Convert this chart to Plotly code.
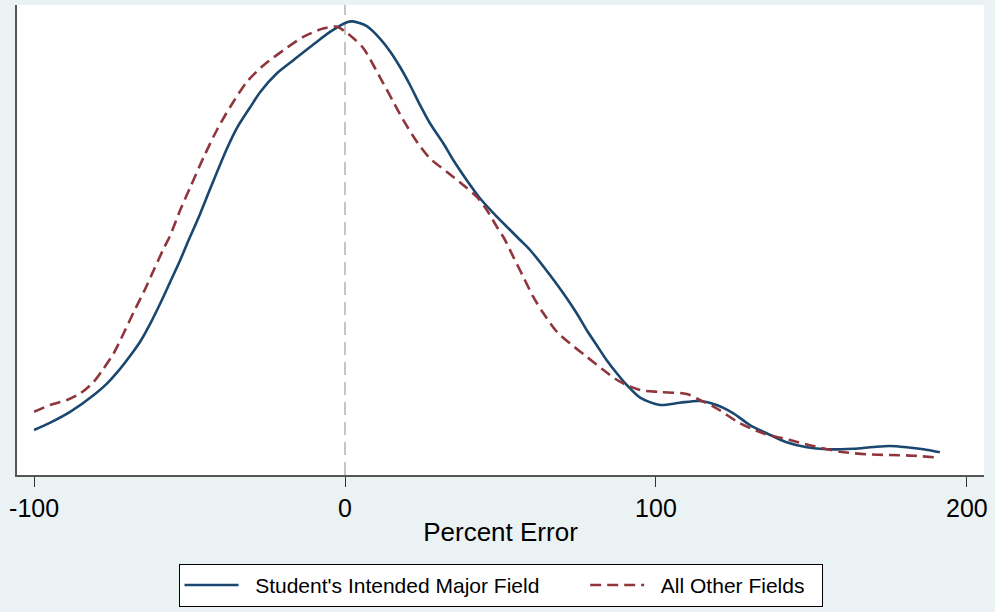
import plotly.graph_objects as go

# Kernel density estimates of percent error (density shown in units of 1e-3)
major_x = [-100, -94.8, -88.3, -80.8, -76.5, -73.3, -68.5, -65.8, -62.6, -59.4, -56.2, -53.0,
           -50.6, -47.0, -43.3, -37.9, -34.7, -30.5, -27.2, -21.9, -16.5, -10.1, -4.7, 0.6,
           2.4, 7.0, 11.3, 14.5, 17.7, 20.9, 24.1, 27.3, 31.6, 34.8, 39.1, 43.4, 48.8, 53.1,
           56.3, 59.5, 65.9, 70.2, 74.5, 77.7, 80.9, 84.1, 87.4, 90.6, 94.9, 101.3, 107.7,
           114.1, 119.5, 124.9, 130.2, 135.6, 142.0, 148.5, 154.9, 163.4, 169.9, 175.2, 180.6,
           186.0, 191.3]
major_y = [0.75, 0.872, 1.055, 1.333, 1.528, 1.71, 2.03, 2.23, 2.528, 2.862, 3.222, 3.583,
           3.88, 4.305, 4.78, 5.45, 5.79, 6.13, 6.388, 6.695, 6.917, 7.178, 7.388, 7.545,
           7.56, 7.48, 7.27, 7.06, 6.8, 6.5, 6.167, 5.862, 5.528, 5.25, 4.917, 4.612,
           4.305, 4.083, 3.917, 3.75, 3.333, 3.028, 2.695, 2.417, 2.167, 1.917, 1.695, 1.5,
           1.29, 1.167, 1.205, 1.233, 1.167, 1.028, 0.833, 0.695, 0.545, 0.462, 0.428, 0.438,
           0.467, 0.483, 0.462, 0.428, 0.378]

other_x = [-100, -94.8, -89.4, -85.1, -80.8, -77.6, -74.4, -71.2, -67.9, -64.7, -61.5, -58.3,
           -56.3, -53.0, -49.7, -45.4, -41.2, -36.9, -31.5, -26.1, -19.7, -13.3, -6.8, -2.6,
           0.1, 2.7, 5.9, 9.1, 12.3, 15.5, 18.7, 23.1, 27.3, 32.7, 38.0, 42.3, 45.6, 48.8,
           51.1, 54.1, 57.3, 60.5, 63.8, 68.1, 72.3, 77.7, 83.1, 88.4, 94.9, 101.3, 109.9,
           114.1, 119.5, 127.0, 134.5, 143.1, 150.6, 159.2, 167.7, 175.2, 182.7, 189.7]
other_y = [1.055, 1.167, 1.25, 1.362, 1.555, 1.778, 2.028, 2.362, 2.722, 3.055, 3.417, 3.778,
           3.983, 4.417, 4.805, 5.305, 5.75, 6.138, 6.555, 6.833, 7.083, 7.305, 7.445, 7.472,
           7.388, 7.278, 7.112, 6.833, 6.528, 6.222, 5.917, 5.555, 5.278, 5.055, 4.833, 4.638,
           4.417, 4.138, 3.95, 3.638, 3.305, 2.972, 2.695, 2.388, 2.195, 1.972, 1.75, 1.555,
           1.417, 1.383, 1.35, 1.25, 1.112, 0.862, 0.695, 0.583, 0.483, 0.388, 0.345, 0.333,
           0.322, 0.295]

x_ticks = [-100, 0, 100, 200]
series_names = ["Student's Intended Major Field", "All Other Fields"]

BLUE = "#1A476F"
RED = "#90353B"
BG = "#EAF2F3"
FONT = "Arial, Liberation Sans, sans-serif"
NBSP = "\u00a0"


def legend_label(text, lead, trail):
    # pad legend labels with non-breaking spaces to widen the key spacing
    return NBSP * lead + text + NBSP * trail


fig = go.Figure()
fig.add_trace(go.Scatter(
    x=major_x, y=major_y, mode="lines", name=legend_label(series_names[0], 2, 7),
    line=dict(color=BLUE, width=2.6, shape="spline", smoothing=0.8),
))
fig.add_trace(go.Scatter(
    x=other_x, y=other_y, mode="lines", name=legend_label(series_names[1], 2, 2),
    line=dict(color=RED, width=2.6, dash="11px,6px", shape="spline", smoothing=0.8),
))

# reference line at zero error
fig.add_vline(x=0, line=dict(color="#C4C4C4", width=2, dash="13px,7px"), layer="below")

fig.update_layout(
    width=995, height=612,
    margin=dict(l=17, r=11, t=5, b=137),
    paper_bgcolor=BG,
    plot_bgcolor="white",
    font=dict(family=FONT, color="black"),
    showlegend=True,
    legend=dict(
        orientation="h",
        x=0.5, xanchor="center",
        y=-0.189, yanchor="top",
        bgcolor="white",
        bordercolor="black",
        borderwidth=1,
        font=dict(size=21, family=FONT),
        itemwidth=54,
    ),
)
fig.update_xaxes(
    range=[-105.5, 205.5],
    tickmode="array", tickvals=x_ticks, ticktext=[str(t) for t in x_ticks],
    ticks="outside", ticklen=10, tickwidth=1, tickcolor="#333333",
    tickfont=dict(size=25),
    showline=True, linecolor="#555555", linewidth=2,
    showgrid=False, zeroline=False,
    title=dict(text="Percent Error", font=dict(size=26), standoff=2),
)
fig.update_yaxes(
    range=[0, 7.833],
    showticklabels=False, ticks="",
    showline=True, linecolor="#555555", linewidth=2,
    showgrid=False, zeroline=False,
)

fig.write_html("out.html")
